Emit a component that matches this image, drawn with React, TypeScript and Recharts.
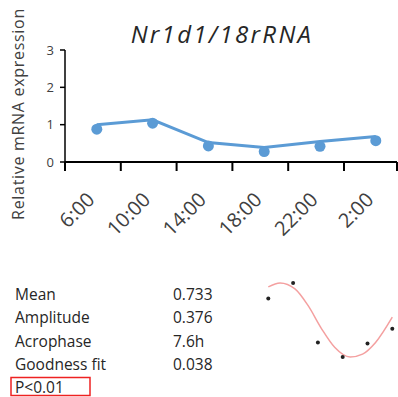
import React from "react";
import { LineChart, ComposedChart, Line, XAxis, YAxis } from "recharts";

// sampling times and values
const times = ["6:00", "10:00", "14:00", "18:00", "22:00", "2:00"];
const trendVals = [1.0, 1.13, 0.52, 0.39, 0.55, 0.68];
const pointVals = [0.88, 1.04, 0.43, 0.28, 0.42, 0.57];
const yTicks = [0, 1, 2, 3];
// x axis runs in sample-index units; tick marks sit on the category borders
const xDomain = [-0.57, 5.38];
const borderTicks = [-0.57, 0.43, 1.43, 2.43, 3.43, 4.43, 5.38];

// cosinor inset
const sampleHours = [6, 10, 14, 18, 22, 26];
const fitHours = [6, 7.9, 10.3, 12.4, 14.6, 16.7, 19.2, 21.2, 23.3, 26];
const fitVals = [1.0, 1.04, 0.98, 0.81, 0.57, 0.38, 0.28, 0.31, 0.43, 0.69];

const statNames = ["Mean", "Amplitude", "Acrophase", "Goodness fit"];
const statValues = ["0.733", "0.376", "7.6h", "0.038"];
const pLabel = "P<0.01";

const font = '"Open Sans", sans-serif';
const blue = "#5B9BD5";

const mainData = times.map((t, i) => ({
  idx: i,
  time: t,
  trend: trendVals[i],
  point: pointVals[i],
}));
const sampleData = sampleHours.map((h, i) => ({ h, v: pointVals[i] }));
const fitData = fitHours.map((h, i) => ({ h, v: fitVals[i] }));

// label for category i drawn from the border tick left of it
const TimeTick = (props: any) => {
  const { x, y, payload, width } = props;
  const i = payload.index;
  if (i >= times.length) return null;
  const unit = (width || 332) / (xDomain[1] - xDomain[0]);
  const ax = x + (i - payload.value) * unit - 1;
  const ay = y + 30;
  return (
    <text
      x={ax}
      y={ay}
      transform={`rotate(-45 ${ax} ${ay})`}
      textAnchor="end"
      fontSize={20}
      fontFamily={font}
      fill="#404040"
    >
      {times[i]}
    </text>
  );
};

const YTitle = () => (
  <text
    x={18}
    y={114}
    transform="rotate(-90 18 114)"
    textAnchor="middle"
    dominantBaseline="central"
    fontSize={16}
    letterSpacing={0.7}
    fontFamily={font}
    fill="#404040"
  >
    Relative mRNA expression
  </text>
);

export default function App() {
  return (
    <div
      style={{
        position: "absolute",
        left: 0,
        top: 0,
        width: 398,
        height: 397,
        overflow: "hidden",
        background: "#fff",
        fontFamily: font,
      }}
    >
      <LineChart
        width={398}
        height={248}
        data={mainData}
        margin={{ top: 50, right: 1, bottom: 0, left: 0 }}
      >
        <XAxis
          type="number"
          dataKey="idx"
          domain={xDomain}
          allowDataOverflow
          ticks={borderTicks}
          interval={0}
          tickSize={9}
          tickMargin={0}
          height={86}
          stroke="#000"
          strokeWidth={2}
          tick={<TimeTick />}
        />
        <YAxis
          width={65}
          domain={[0, 3]}
          ticks={yTicks}
          tickSize={5}
          tickMargin={6}
          stroke="#000"
          strokeWidth={1.5}
          tick={{ fontSize: 13, fill: "#404040", fontFamily: font, stroke: "none" }}
          label={{ content: <YTitle /> }}
        />
        <Line
          dataKey="trend"
          stroke={blue}
          strokeWidth={3}
          dot={false}
          isAnimationActive={false}
        />
        <Line
          dataKey="point"
          stroke="none"
          dot={{ r: 5.5, fill: blue, stroke: blue, strokeWidth: 0 }}
          isAnimationActive={false}
        />
      </LineChart>

      <div style={{ position: "absolute", left: 258, top: 267 }}>
        <ComposedChart
          width={140}
          height={110}
          margin={{ top: 10.2, right: 5.7, bottom: 12.2, left: 10.3 }}
        >
          <XAxis type="number" dataKey="h" domain={[6, 26]} hide />
          <YAxis domain={[0.2, 1.1]} hide />
          <Line
            data={fitData}
            dataKey="v"
            type="monotone"
            stroke="#F4A0A0"
            strokeWidth={1.5}
            dot={false}
            isAnimationActive={false}
          />
          <Line
            data={sampleData}
            dataKey="v"
            stroke="none"
            dot={{ r: 2, fill: "#222", stroke: "none" }}
            isAnimationActive={false}
          />
        </ComposedChart>
      </div>

      <svg
        width={398}
        height={397}
        style={{ position: "absolute", left: 0, top: 0, pointerEvents: "none" }}
      >
        <text
          x={222}
          y={43}
          textAnchor="middle"
          fontSize={24}
          letterSpacing={2.3}
          fontStyle="italic"
          fontFamily={font}
          fill="#262626"
        >
          Nr1d1/18rRNA
        </text>
        {statNames.map((name, i) => (
          <g key={name}>
            <text x={15} y={300 + i * 23.3} fontSize={15.5} fontFamily={font} fill="#262626">
              {name}
            </text>
            <text x={173} y={300 + i * 23.3} fontSize={15.5} fontFamily={font} fill="#262626">
              {statValues[i]}
            </text>
          </g>
        ))}
        <rect x={11} y={377.5} width={79} height={18} fill="none" stroke="#EE2222" strokeWidth={1.5} />
        <text x={15} y={393} fontSize={15.5} fontFamily={font} fill="#262626">
          {pLabel}
        </text>
      </svg>
    </div>
  );
}
